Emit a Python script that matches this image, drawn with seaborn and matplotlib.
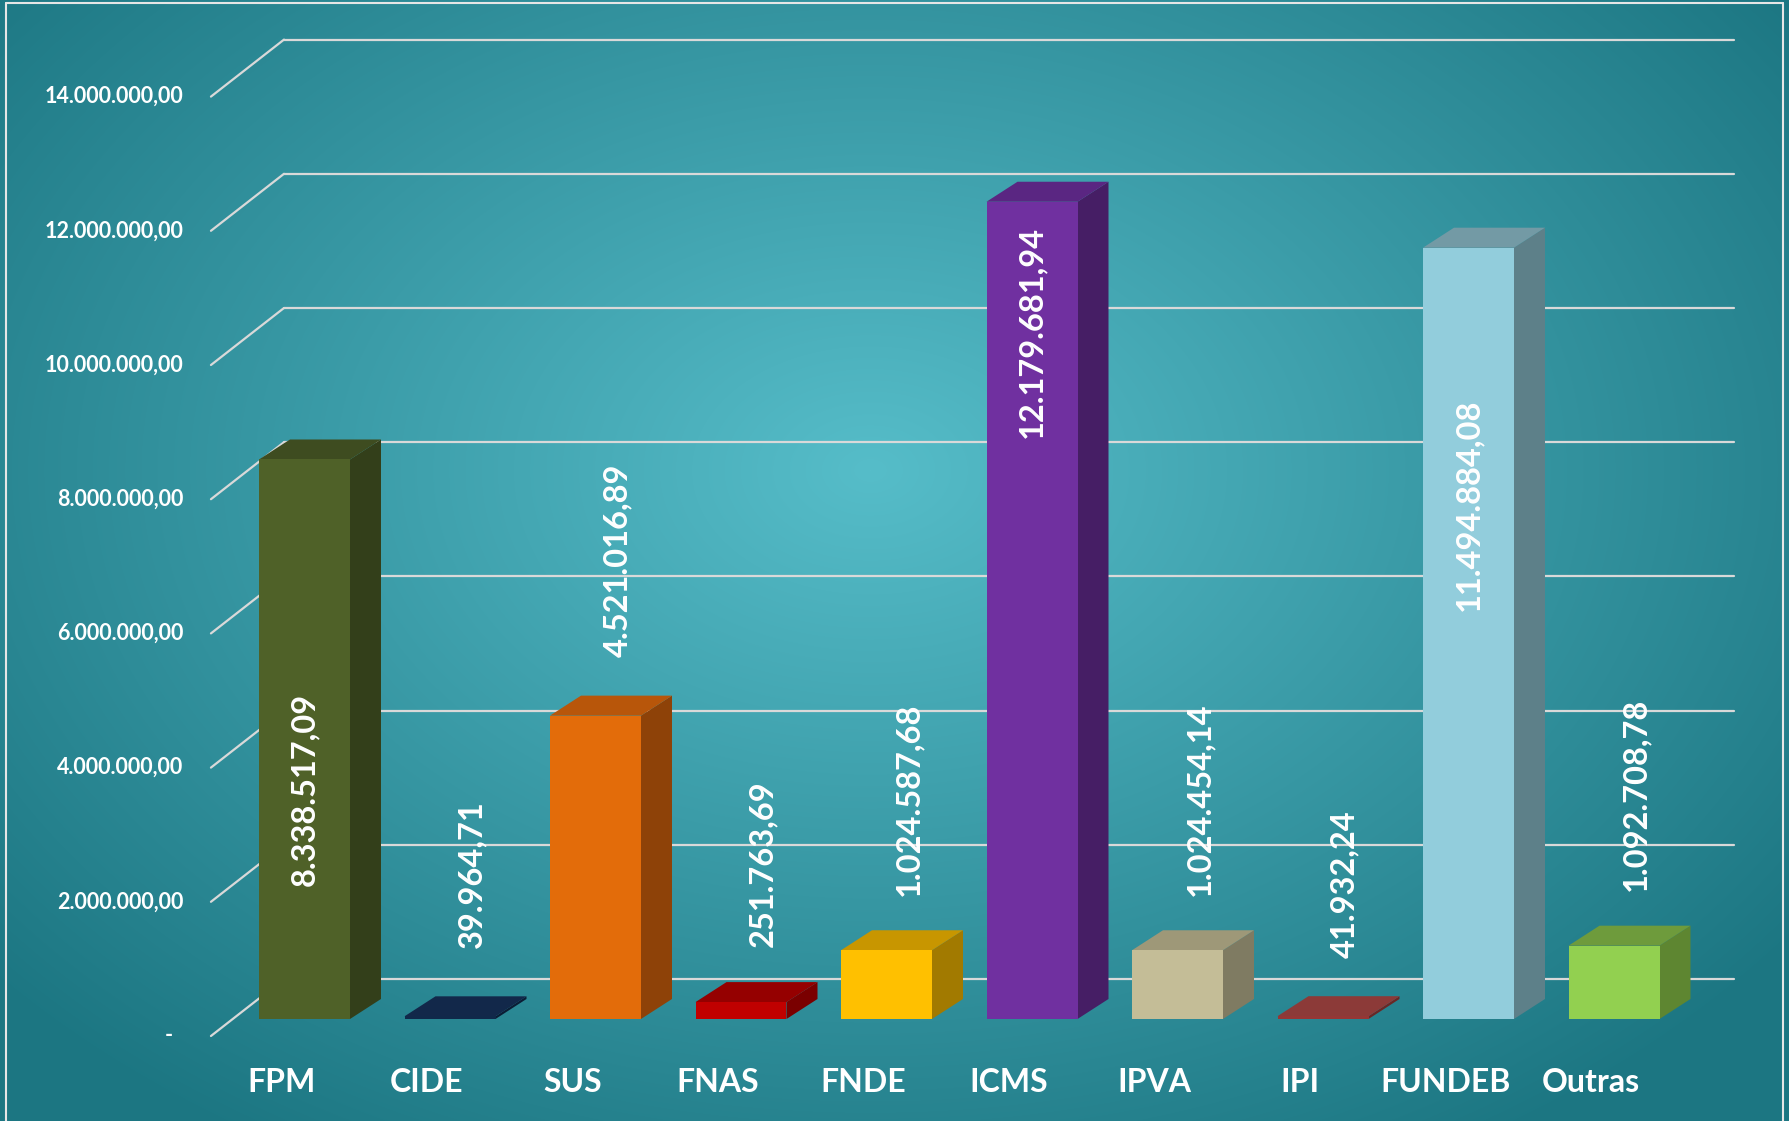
import numpy as np
import pandas as pd
import seaborn as sns
import matplotlib.pyplot as plt
from matplotlib.patches import Polygon
from matplotlib.lines import Line2D

# data
categories = ["FPM", "CIDE", "SUS", "FNAS", "FNDE", "ICMS", "IPVA", "IPI", "FUNDEB", "Outras"]
values = [8338517.09, 39964.71, 4521016.89, 251763.69, 1024587.68,
          12179681.94, 1024454.14, 41932.24, 11494884.08, 1092708.78]
y_ticks = [0, 2e6, 4e6, 6e6, 8e6, 10e6, 12e6, 14e6]

# styles
front_colors = ["#4F6128", "#10294A", "#E36C0A", "#C00000", "#FFC000",
                "#7030A0", "#C4BD97", "#953735", "#92CDDC", "#92D050"]
side_colors = ["#333F1A", "#0B1D35", "#8E4208", "#7A0000", "#A27A00",
               "#461E65", "#7F7B62", "#6A2725", "#5D8089", "#5E8631"]
top_colors = ["#3E4C20", "#12284A", "#B8560A", "#950000", "#C89600",
              "#5A2682", "#9E9878", "#8C3A38", "#739AA5", "#6E9B3C"]
label_y = [3.42e6, 2.16e6, 6.84e6, 2.31e6, 3.27e6, 10.24e6, 3.27e6, 2.01e6, 7.67e6, 3.35e6]

W, H = 1789, 1121
PX_X = 145.5          # pixels per category
PX_Y = 67.1 / 1e6     # pixels per unit value
X0, Y0 = 304.5, 1019  # pixel of (0, 0)
BAR_D = (31 / PX_X, 20 / PX_Y)           # bar depth offset
FRONT = (-0.643, -17 / PX_Y)             # front axis plane
BACK = (-0.141, 40 / PX_Y)               # back wall plane
BACK_END = 9.825
GRID = "#D9D9D9"


def br(v):
    s = f"{v:,.2f}"
    return s.replace(",", "X").replace(".", ",").replace("X", ".")


sns.set_style("white")
plt.rcParams["font.family"] = ["Lato", "DejaVu Sans"]

fig = plt.figure(figsize=(W / 100, H / 100), dpi=100)

# radial gradient background
bg = fig.add_axes([0, 0, 1, 1])
yy, xx = np.mgrid[0:H, 0:W]
r = np.sqrt(((xx - 870) / 1150) ** 2 + ((yy - 470) / 800) ** 2)
r = np.clip(r, 0, 1)[..., None]
c_in = np.array([0x56, 0xBD, 0xC9]) / 255
c_out = np.array([0x1C, 0x76, 0x82]) / 255
bg.imshow(c_in * (1 - r) + c_out * r, aspect="auto", extent=[0, 1, 0, 1])
bg.axis("off")

ax = fig.add_axes([0, 0, 1, 1])
ax.patch.set_alpha(0)
df = pd.DataFrame({"cat": categories, "val": values})
sns.barplot(data=df, x="cat", y="val", hue="cat", palette=front_colors, saturation=1,
            width=91 / PX_X, legend=False, ax=ax, linewidth=0, zorder=4)
ax.set_xlim(-X0 / PX_X, (W - X0) / PX_X)
ax.set_ylim(-(H - Y0) / PX_Y, Y0 / PX_Y)
ax.axis("off")

# gridlines: back wall + diagonals to front axis
for t in y_ticks:
    ax.plot([BACK[0], BACK_END], [t + BACK[1], t + BACK[1]], color=GRID, lw=1.6, zorder=1)
    ax.plot([FRONT[0], BACK[0]], [t + FRONT[1], t + BACK[1]], color=GRID, lw=1.6, zorder=1)
    lab = "-" if t == 0 else br(t)
    xl = -0.93 if t == 0 else -0.835
    ax.text(xl, t + FRONT[1], lab, ha="center" if t == 0 else "right", va="center",
            color="white", fontsize=15.5, fontweight="bold")

# 3D faces
dx, dy = BAR_D
for i, p in enumerate(ax.patches):
    x0, w, h = p.get_x(), p.get_width(), p.get_height()
    x1 = x0 + w
    side = Polygon([(x1, 0), (x1 + dx, dy), (x1 + dx, h + dy), (x1, h)],
                   closed=True, fc=side_colors[i], ec="none", zorder=3)
    top = Polygon([(x0, h), (x0 + dx, h + dy), (x1 + dx, h + dy), (x1, h)],
                  closed=True, fc=top_colors[i], ec="none", zorder=3)
    ax.add_patch(side)
    ax.add_patch(top)
    inside = label_y[i] < values[i]
    ax.text(i if inside else i + 0.15, label_y[i], br(values[i]), rotation=90,
            ha="center", va="center", color="white", fontsize=23.5,
            fontweight="bold", zorder=6)
    ax.text(i - 0.16, -(1082 - Y0) / PX_Y, categories[i], ha="center", va="center",
            color="white", fontsize=23, fontweight="bold", zorder=6)

# thin white frame
for xs, ys in [([6 / W, 6 / W], [0, 1 - 3 / H]),
               ([6 / W, 1783 / W], [1 - 3 / H, 1 - 3 / H]),
               ([1783 / W, 1783 / W], [0, 1 - 3 / H])]:
    fig.add_artist(Line2D(xs, ys, color="#E6E6E6", lw=1.5))

fig.savefig("out.png", dpi=100)
